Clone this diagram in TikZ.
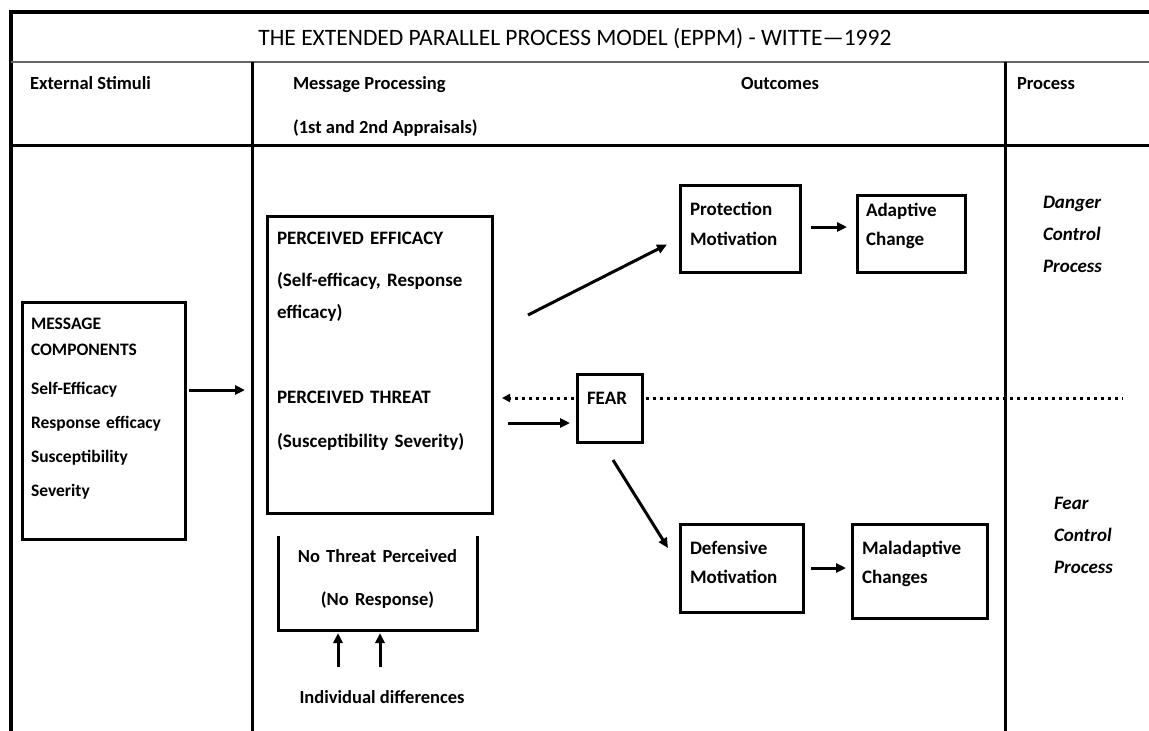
\documentclass[tikz,border=0pt]{standalone}
\usepackage{fontspec}
\setmainfont{Carlito}
\usetikzlibrary{
  positioning,     % relative placement of the boxes
  arrows.meta      % triangle arrow tips
}
\tikzset{
  x=1pt, y=-1pt,
  every node/.style = {inner sep=0pt, outer sep=0pt},
  frameline/.style = {line width=4pt, line join=miter},
  colline/.style = {line width=3pt},
  titletext/.style = {font=\fontsize{23.5}{26}\selectfont, anchor=base},
  header/.style = {font=\fontsize{18.5}{20}\selectfont\bfseries, anchor=base west},
  stagebox/.style = {
    draw,
    line width=3pt,
    anchor=north west,
    align=left,
    inner xsep=10pt,
    inner ysep=0pt,
    font=\fontsize{19}{30}\selectfont\bfseries
  },
  bracketbox/.style = {anchor=north west, align=center,
    font=\fontsize{18.5}{43}\selectfont\bfseries},
  processlabel/.style = {font=\fontsize{19}{32}\selectfont\bfseries\itshape,
    align=left, anchor=base west, text width=80pt},
  arr/.style = {-{Triangle[length=10pt,width=9pt]}, line width=3pt},
  dotline/.style = {line width=3pt, dash pattern=on 3pt off 4pt},
}

\begin{document}
\begin{tikzpicture}
  \useasboundingbox (0,0) rectangle (1149,731);

  %% table frame
  \draw[frameline] (11,731) -- (11,12) -- (1149,12);
  \draw[line width=2pt, black!60] (11,62) -- (1149,62);
  \draw[colline] (11,145) -- (1149,145);
  \draw[colline] (252,62) -- (252,731);
  \draw[colline] (1005,62) -- (1005,731);

  %% title and column headers
  \node[titletext] (ttl) at (575,45) {THE EXTENDED PARALLEL PROCESS MODEL (EPPM) - WITTE—1992};
  \node[header] (hStim) at (30,89) {External Stimuli};
  \node[header] (hMsg) at (293,89) {Message Processing};
  \node[header] (hAppr) at (293,133) {(1st and 2nd Appraisals)};
  \node[header, anchor=base] (hOut) at (780,89) {Outcomes};
  \node[header] (hProc) at (1017,89) {Process};

  %% boxes
  \node[stagebox, inner xsep=9pt, text width=145pt, text height=27pt, text depth=210pt,
    font=\fontsize{17.5}{34}\selectfont\bfseries] (comp) at (22,302)
    {MESSAGE\\[-8pt] COMPONENTS\\[5pt] Self-Efficacy\\ Response efficacy\\ Susceptibility\\ Severity};

  \node[stagebox, text width=205pt, text height=28pt, text depth=269pt,
    font=\fontsize{19}{32}\selectfont\bfseries] (perc) at (267,216)
    {PERCEIVED EFFICACY\\[10pt] (Self-efficacy, Response\\ efficacy)\\[53pt] PERCEIVED THREAT\\[12pt] (Susceptibility Severity)};

  \node[stagebox, text width=45pt, text height=30pt, text depth=38pt] (fear) at (577,374) {FEAR};

  \node[stagebox, text width=100pt, text height=30pt, text depth=57pt] (prot) at (680,185)
    {Protection\\ Motivation};
  \node[stagebox, inner xsep=9pt, text width=90pt, text height=21pt, text depth=56pt,
    font=\fontsize{19}{29}\selectfont\bfseries] (adapt)
    [right=57pt of prot.north east, anchor=north west, yshift=-10pt]
    {Adaptive\\ Change};

  \node[stagebox, text width=103pt, text height=30pt, text depth=58pt,
    font=\fontsize{19}{29}\selectfont\bfseries] (defm) at (680,524)
    {Defensive\\ Motivation};
  \node[stagebox, text width=115pt, text height=30pt, text depth=64pt,
    font=\fontsize{19}{29}\selectfont\bfseries] (malad)
    [right=49pt of defm.north east, anchor=north west]
    {Maladaptive\\ Changes};

  \node[bracketbox, text width=199pt, text height=26pt, text depth=68pt] (nothr) at (278,536)
    {No Threat Perceived\\ (No Response)};
  \draw[colline] (nothr.north west) -- (nothr.south west) -- (nothr.south east) -- (nothr.north east);

  \node[header, anchor=base] (indiv) at (382,703) {Individual differences};

  %% process column
  \node[processlabel] (danger) at (1043,208) {Danger\\ Control\\ Process};
  \node[processlabel] (fearctl) at (1054,509) {Fear\\ Control\\ Process};

  %% arrows
  \coordinate (stimIn) at (245,390);
  \draw[arr, shorten <=4pt] (comp.east |- stimIn) -- (stimIn);

  \coordinate (effOut) at (528,315);
  \draw[arr] (effOut) -- ([xshift=-13pt, yshift=-16pt]prot.west);

  \coordinate (thrOut) at (0,423);
  \draw[arr, shorten <=16pt, shorten >=7pt] (perc.east |- thrOut) -- (fear.west |- thrOut);

  \coordinate (dotEnd) at (1123,398);
  \draw[dotline, shorten <=4pt] (fear.east |- dotEnd) -- (dotEnd);
  \draw[dotline, -{Triangle[length=8pt,width=8pt]}, shorten <=3pt, shorten >=10pt]
    (fear.west |- dotEnd) -- (perc.east |- dotEnd);

  \draw[arr] ([xshift=3.5pt, yshift=-18pt]fear.south) -- ([xshift=-12pt, yshift=20pt]defm.west);

  \draw[arr, shorten <=11pt, shorten >=10pt] ([yshift=1.5pt]prot.east) -- ([yshift=1.5pt]prot.east -| adapt.west);
  \draw[arr, shorten <=8pt, shorten >=6pt] (defm.east) -- (defm.east -| malad.west);

  \draw[arr, shorten <=23pt, shorten >=3pt] ([xshift=-44pt]indiv.north) -- ([xshift=-44pt]indiv.north |- nothr.south);
  \draw[arr, shorten <=23pt, shorten >=3pt] ([xshift=-2pt]indiv.north) -- ([xshift=-2pt]indiv.north |- nothr.south);

\end{tikzpicture}
\end{document}
